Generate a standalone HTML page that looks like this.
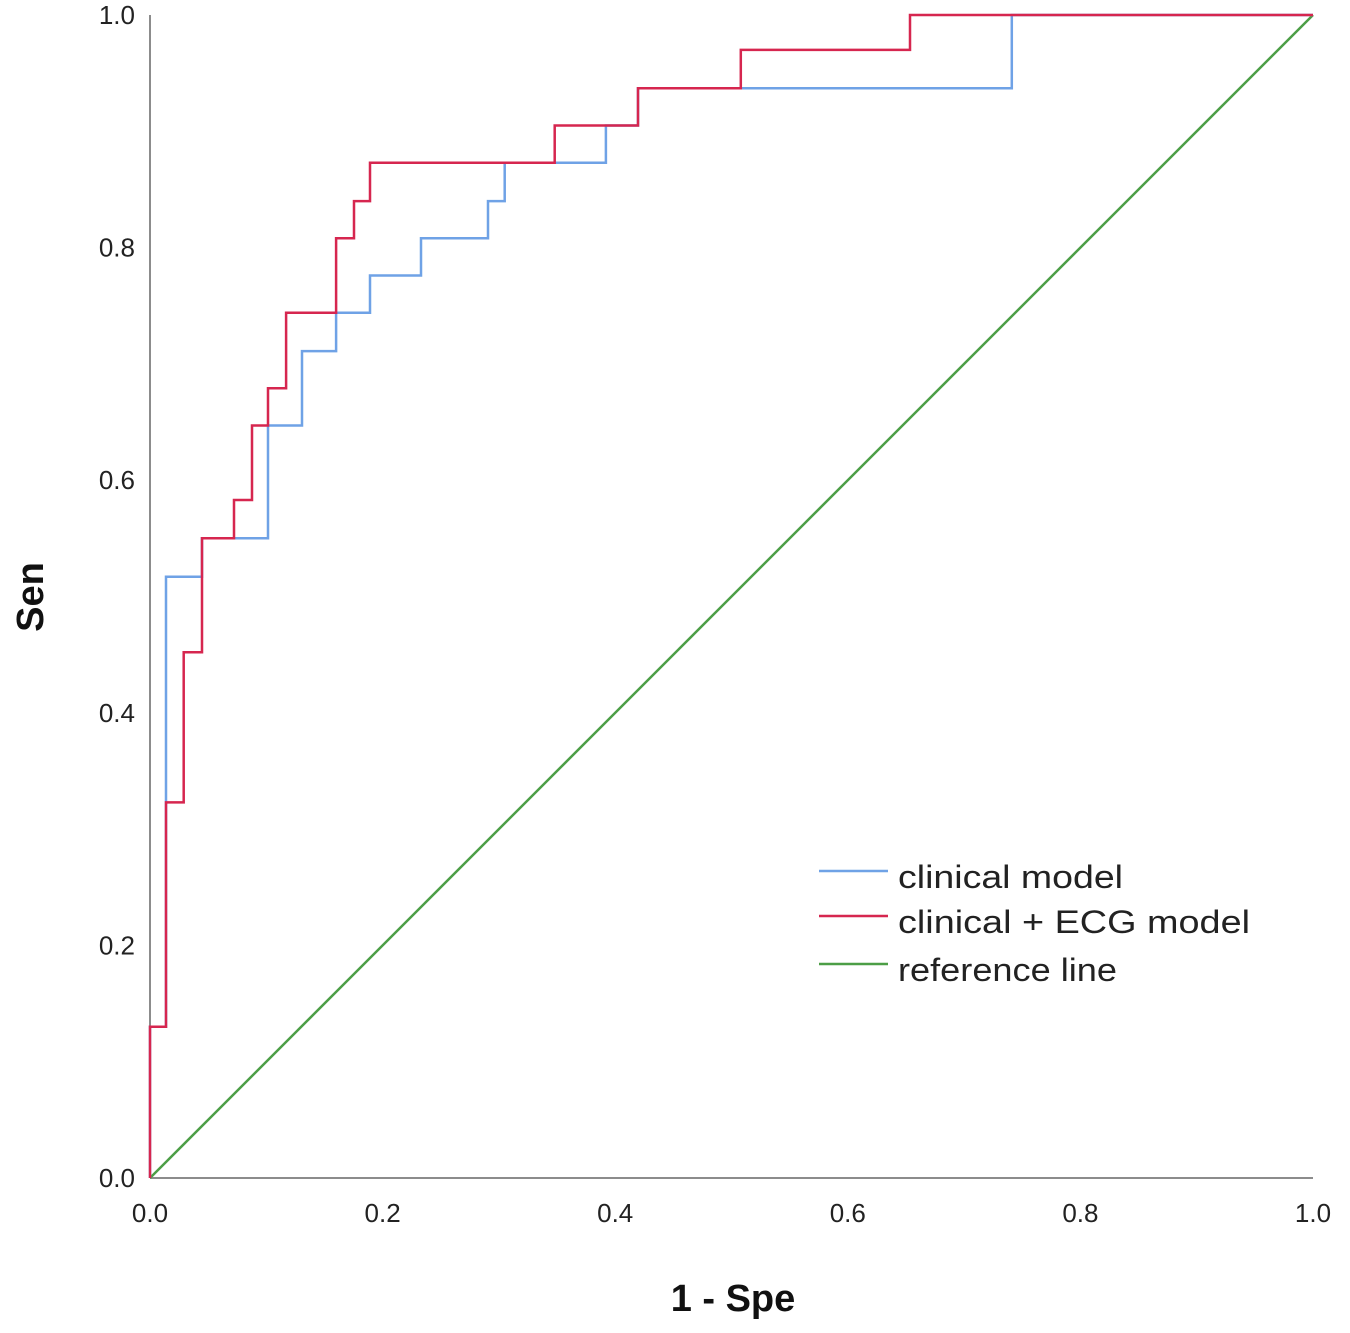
<!DOCTYPE html>
<html><head><meta charset="utf-8"><style>
html,body{margin:0;padding:0;background:#fff;}
svg{display:block;font-family:"Liberation Sans",Arial,sans-serif;}
</style></head><body>
<svg id="chart" width="1350" height="1333" viewBox="0 0 1350 1333"></svg>
<script>
const xTicks=[0,0.2,0.4,0.6,0.8,1.0];
const yTicks=[0,0.2,0.4,0.6,0.8,1.0];
const tickLabels=["0.0","0.2","0.4","0.6","0.8","1.0"];
const clinicalFpr=[0,0,0.0138,0.0138,0.0447,0.0447,0.1015,0.1015,0.1307,0.1307,0.16,0.16,0.1892,0.1892,0.233,0.233,0.2906,0.2906,0.305,0.305,0.392,0.392,0.4196,0.4196,0.741,0.741,1];
const clinicalTpr=[0,0.13,0.13,0.517,0.517,0.55,0.55,0.647,0.647,0.711,0.711,0.744,0.744,0.776,0.776,0.808,0.808,0.84,0.84,0.873,0.873,0.905,0.905,0.937,0.937,1,1];
const ecgFpr=[0,0,0.0138,0.0138,0.029,0.029,0.0447,0.0447,0.0722,0.0722,0.0877,0.0877,0.1015,0.1015,0.117,0.117,0.16,0.16,0.1754,0.1754,0.1892,0.1892,0.348,0.348,0.4196,0.4196,0.508,0.508,0.6535,0.6535,1];
const ecgTpr=[0,0.13,0.13,0.323,0.323,0.452,0.452,0.55,0.55,0.583,0.583,0.647,0.647,0.679,0.679,0.744,0.744,0.808,0.808,0.84,0.84,0.873,0.873,0.905,0.905,0.937,0.937,0.97,0.97,1,1];
const refX=[0,1];
const refY=[0,1];

const X0=150,X1=1313,Y0=1178,Y1=15;
const sx=v=>X0+v*(X1-X0);
const sy=v=>Y0-v*(Y0-Y1);
const svg=document.getElementById('chart');
const NS='http://www.w3.org/2000/svg';
function mk(tag,attrs,parent){const e=document.createElementNS(NS,tag);for(const k in attrs)e.setAttribute(k,attrs[k]);(parent||svg).appendChild(e);return e;}

let a=mk('line',{x1:X0,y1:Y1,x2:X0,y2:Y0,stroke:'#8c8c8c','stroke-width':2});


a=mk('line',{x1:X0,y1:Y0,x2:X1,y2:Y0,stroke:'#8c8c8c','stroke-width':2});



xTicks.forEach((v,i)=>{
  const t=mk('text',{x:sx(v),y:1222,'font-size':26,'text-anchor':'middle',fill:'#222'});
  t.textContent=tickLabels[i];
  
  
});
yTicks.forEach((v,i)=>{
  const t=mk('text',{x:135,y:sy(v)+9,'font-size':26,'text-anchor':'end',fill:'#222'});
  t.textContent=tickLabels[i];
  
  
});

let t=mk('text',{x:733,y:1311,'font-size':38,'font-weight':'bold','text-anchor':'middle',fill:'#111'});
t.textContent='1 - Spe';


t=mk('text',{x:0,y:0,'font-size':38,'font-weight':'bold','text-anchor':'middle',fill:'#111',transform:'translate(43,597) rotate(-90)'});
t.textContent='Sen';



function series(xs,ys,color,name){
  const pts=xs.map((x,i)=>sx(x).toFixed(1)+','+sy(ys[i]).toFixed(1)).join(' ');
  const p=mk('polyline',{points:pts,fill:'none',stroke:color,'stroke-width':2.5,'stroke-linejoin':'miter'});
  
  
}
series(refX,refY,'#4c9e46','reference-line');
series(clinicalFpr,clinicalTpr,'#6fa2e6','clinical-model-curve');
series(ecgFpr,ecgTpr,'#d6264f','clinical-ecg-model-curve');

const legItems=[['clinical model','#6fa2e6',877,225],['clinical + ECG model','#d6264f',922,352],['reference line','#4c9e46',970,219]];
legItems.forEach(([lab,c,y,w])=>{
  const l=mk('line',{x1:819,y1:y-6,x2:888,y2:y-6,stroke:c,'stroke-width':2.5});
  
  
  const tx=mk('text',{x:898,y:y+11,'font-size':32,fill:'#222',textLength:w,lengthAdjust:'spacingAndGlyphs'});
  tx.textContent=lab;
  
  
});
</script>
</body></html>
